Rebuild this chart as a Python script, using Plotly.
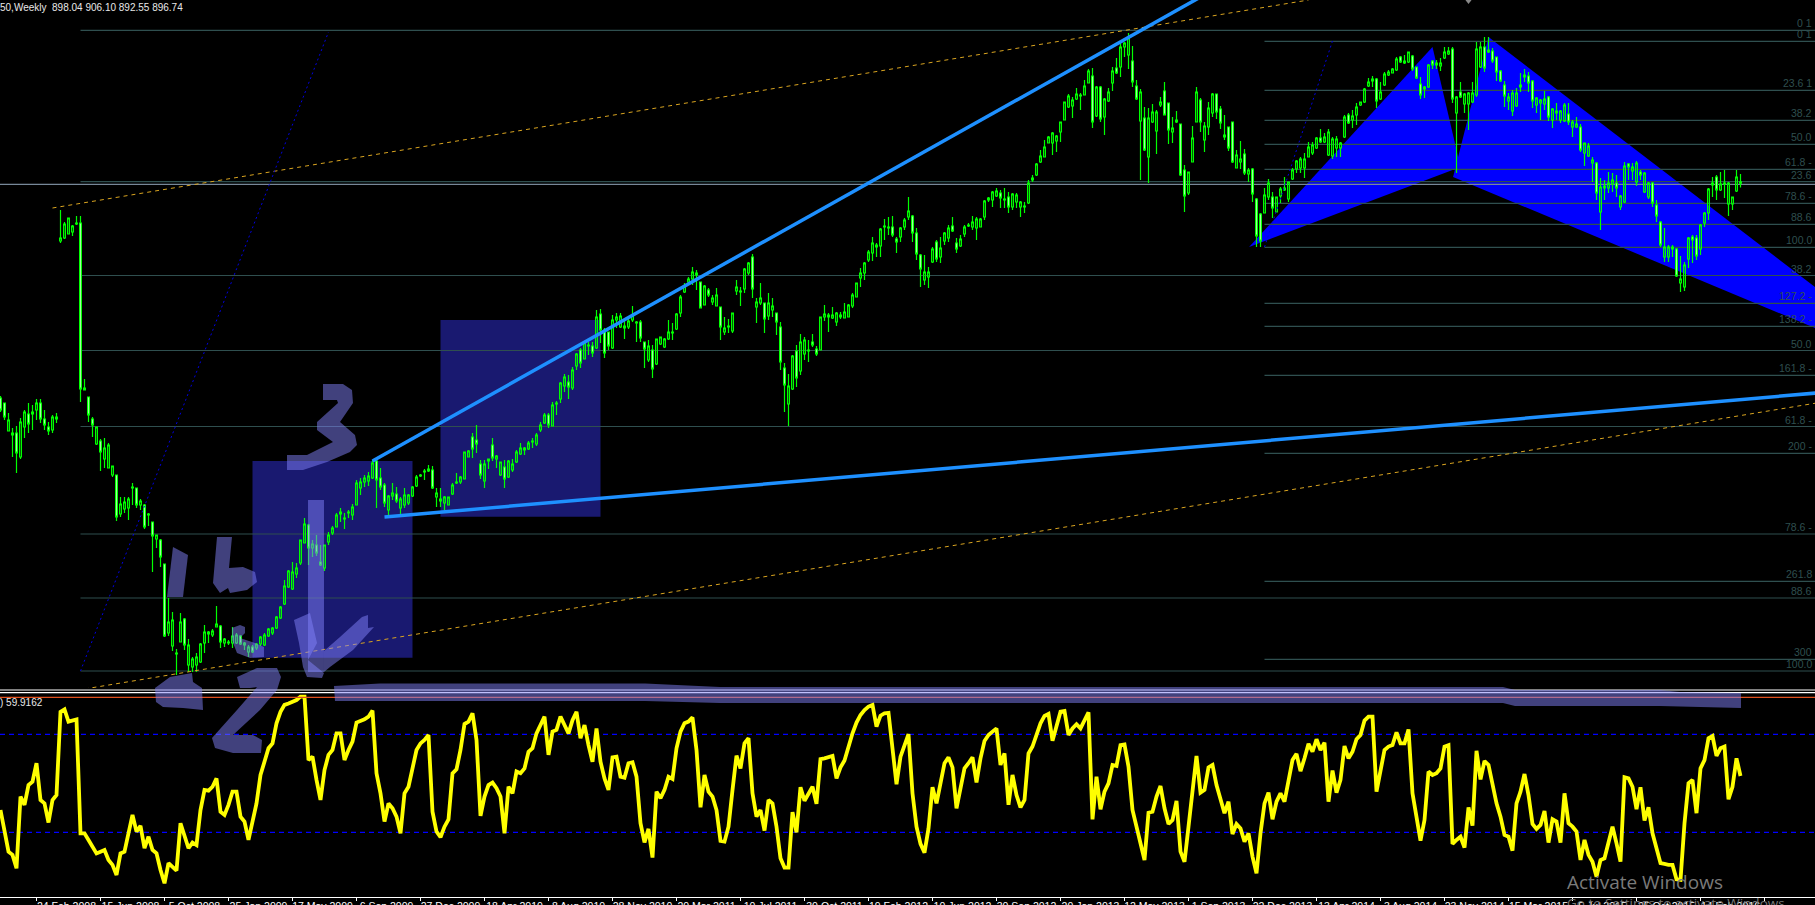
import pandas as pd
import plotly.graph_objects as go

# ---------- weekly candles (chart price units) ----------
opens = [
682,677,649,647,647,623,653,666,666,670,677,661,653,650,661,839,842,846,848,856,857,690,683,661,636,639,621,612,605,605,
566,571,572,592,592,575,575,565,558,541,540,516,447,434,426,438,461,415,413,415,418,437,446,445,453,454,437,438,437,437,
444,435,428,433,432,436,435,444,447,452,462,476,493,491,506,517,537,555,532,535,518,512,538,547,553,566,561,567,565,575,
592,598,599,602,619,602,595,570,584,586,572,575,577,584,594,604,608,609,610,583,581,577,575,586,597,598,601,623,643,640,
616,599,619,635,621,605,613,603,610,618,626,630,631,638,636,650,657,665,654,676,681,694,698,692,714,730,721,734,734,732,766,750,
748,732,760,753,752,753,760,758,758,738,720,730,716,736,733,741,747,751,767,788,798,801,805,798,775,790,778,774,773,748,753,749,
789,788,791,807,823,773,777,777,764,770,767,753,712,676,691,729,709,726,729,738,731,730,763,763,762,758,763,762,763,774,783,802,
807,820,827,833,834,854,852,853,841,843,853,863,864,847,825,800,803,818,838,823,839,842,854,837,834,846,854,853,852,853,863,880,
880,884,887,880,883,873,878,873,873,877,900,905,918,923,937,937,939,948,960,973,974,981,984,985,997,1004,964,993,963,979,997,1012,
1013,1033,1025,1019,994,959,962,923,958,949,975,989,977,948,958,956,910,887,918,958,980,940,953,
967,986,971,943,953,958,912,918,926,906,911,881,866,867,883,883,868,884,890,881,901,911,912,912,923,927,932,942,938,925,924,932,932,
943,965,960,965,975,978,994,999,1001,981,995,1005,1007,1010,1023,1017,1018,1024,1013,996,991,993,1019,1015,1014,1022,1026,1031,967,988,
976,976,978,985,1013,1033,1028,1029,1023,1009,995,979,969,974,993,1003,1004,999,975,977,976,983,960,967,960,959,966,953,953,953,927,924,
917,917,868,892,892,896,897,873,878,916,909,898,908,888,883,897,875,858,823,823,831,831,797,793,821,843,842,831,857,867,895,903,890,896,
876,876,889,898.04]
highs = [
684,677,667,652,654,662,670,677,675,681,681,670,658,665,667,870,858,862,855,864,864,701,683,663,653,641,642,637,614,605,
583,583,583,597,592,581,576,567,558,545,541,516,482,468,431,467,462,441,423,427,437,455,449,451,474,455,442,440,453,447,
445,438,435,435,437,444,447,452,453,464,474,500,510,518,517,540,562,556,540,545,535,535,548,554,567,572,567,570,576,600,
602,605,608,620,622,612,597,585,597,593,583,592,586,594,605,606,611,615,614,592,592,584,583,597,607,604,628,630,647,655,
620,620,621,642,625,618,620,620,621,630,637,633,639,642,647,658,667,667,678,679,698,706,705,713,727,732,738,738,738,770,771,752,
748,765,767,767,760,762,774,759,760,738,740,735,741,743,742,760,757,767,785,797,803,813,810,798,795,792,785,792,773,763,761,767,
800,793,812,818,826,782,797,777,787,782,767,758,717,706,725,735,746,743,740,746,734,763,775,767,773,768,768,777,776,787,797,812,
818,830,843,837,852,861,863,864,843,853,862,883,865,852,826,825,813,833,840,843,848,855,863,842,845,855,857,864,863,862,880,883,
889,892,890,892,888,887,887,879,878,900,905,917,930,940,944,948,945,958,978,986,983,992,987,1000,1011,1012,994,994,982,992,1013,1022,
1037,1038,1047,1034,1000,991,973,972,976,970,983,998,977,963,969,956,915,908,954,993,982,958,978,
987,986,974,965,953,958,930,939,931,912,912,882,867,892,901,888,883,893,903,898,912,920,923,927,938,938,943,951,947,951,943,944,938,
965,967,970,977,978,992,1002,1004,1002,998,1008,1010,1012,1023,1024,1025,1028,1025,1013,1003,994,1016,1020,1020,1022,1033,1033,1033,984,998,
987,988,998,1038,1038,1043,1043,1032,1023,1010,999,987,990,992,1007,1011,1008,1000,983,981,989,984,972,977,970,977,977,960,963,956,937,937,
923,918,902,900,908,907,905,885,918,917,917,919,910,908,898,898,880,859,852,835,835,832,824,818,843,845,845,856,868,892,903,905,908,910,
898,883,910,906.10]
lows = [
668,660,649,623,607,621,642,647,650,660,657,650,645,647,657,837,841,846,844,855,678,690,658,643,635,609,612,612,603,559,
563,567,560,575,572,570,551,554,508,532,513,443,444,429,405,438,430,408,408,408,417,427,437,443,453,432,433,435,432,436,
435,430,423,427,430,434,434,443,445,451,461,475,492,490,502,515,537,515,523,524,514,509,535,545,553,558,551,562,560,575,
585,593,594,601,572,590,573,565,580,577,565,572,575,583,593,603,600,608,591,573,573,570,575,585,596,596,601,623,622,627,
601,592,611,619,612,604,592,602,608,617,625,625,630,632,634,648,656,652,654,665,677,688,681,690,710,712,721,725,723,731,737,722,
730,731,752,752,741,751,758,738,738,712,718,702,715,735,732,740,740,750,763,787,795,795,790,772,775,783,775,774,740,745,747,747,
785,774,787,805,782,757,775,747,760,763,745,710,668,654,690,693,705,720,718,733,724,730,759,748,761,754,761,762,763,772,783,793,
800,818,819,823,823,840,845,843,827,838,850,860,838,820,793,795,792,817,818,817,835,838,848,827,833,843,853,850,840,853,860,878,
873,883,872,872,867,870,872,863,867,876,898,904,917,923,937,925,928,938,960,972,962,980,970,985,997,952,963,958,945,978,989,1006,
1003,1023,1011,993,980,900,929,897,957,926,973,965,936,937,957,904,868,885,918,958,948,928,945,
963,961,951,940,929,917,912,911,905,898,878,833,833,867,880,862,868,877,889,878,900,907,907,902,923,925,931,937,937,924,921,923,923,
942,956,952,955,974,977,993,993,972,980,994,1004,1007,1009,1017,1016,1017,1009,1001,981,982,992,1011,1011,1009,1021,1025,977,907,982,
967,950,977,983,1012,1008,1027,1017,999,998,973,970,964,973,988,998,988,972,967,960,970,959,952,960,957,958,955,943,952,928,914,923,
898,880,850,880,887,888,883,870,877,900,900,894,900,887,881,873,858,833,818,818,823,803,788,789,812,817,820,825,853,860,883,880,889,882,
864,870,888,892.55]
closes = [
670,663,660,645,627,658,668,656,668,677,661,655,649,663,663,842,856,862,854,857,691,692,665,655,653,628,632,635,614,563,
576,578,581,593,575,579,553,566,544,545,523,444,458,460,427,458,435,435,421,423,436,448,448,449,456,438,441,437,444,445,
436,437,433,428,436,443,445,451,452,463,473,494,509,508,512,540,556,532,536,527,515,535,545,552,565,568,562,568,573,597,
598,602,604,617,600,593,577,584,587,579,581,585,585,593,603,605,609,611,592,587,579,583,583,595,598,603,628,629,631,636,
605,616,621,622,624,618,601,619,616,628,632,632,637,639,645,655,665,655,675,677,697,703,693,710,726,717,737,735,727,763,750,727,
734,760,763,764,754,759,765,757,742,731,734,711,741,743,741,748,748,766,783,794,801,808,807,772,794,785,782,785,753,752,754,767,
793,789,811,817,791,778,782,761,777,774,758,718,695,694,724,702,738,740,730,735,726,763,766,765,765,767,765,768,775,785,797,807,
817,828,837,835,851,853,853,845,838,852,860,869,847,826,811,808,808,831,821,832,847,852,849,831,841,853,855,858,861,861,879,882,
888,889,882,881,873,886,885,878,874,897,902,916,924,933,943,947,944,958,978,984,980,986,985,994,1009,958,993,961,981,988,1009,1007,
1033,1037,1042,998,981,988,930,962,968,968,978,965,950,952,960,905,884,908,942,988,958,954,972,
986,968,957,945,932,918,925,921,907,910,886,844,839,885,897,872,883,891,892,898,910,919,921,921,933,935,942,938,943,948,941,941,937,
963,957,964,973,978,991,998,1001,979,988,1006,1008,1011,1021,1018,1019,1028,1011,1002,985,993,1015,1015,1017,1017,1028,1029,981,983,983,
986,987,987,1031,1033,1012,1030,1019,1008,999,984,983,987,987,995,1005,997,979,982,980,981,963,971,969,969,975,958,958,956,930,937,934,
920,887,893,894,897,900,892,884,914,913,913,917,905,907,897,877,864,835,833,833,833,804,801,815,842,840,824,855,867,891,897,890,896,897,
897,883,903,896.74]

# ---------- RSI ----------
rsi_values = [
39.1,31.0,22.1,20.8,15.3,44.6,41.2,49.3,50.7,58.2,43.2,41.8,34.0,43.2,45.2,79.2,80.2,75.2,75.6,76.1,29.6,29.6,26.9,24.2,21.4,22.1,22.8,18.7,16.7,12.6,
21.4,22.1,29.6,37.1,30.3,32.6,23.5,28.2,22.8,21.4,14.6,9.2,17.4,16.0,14.4,33.7,28.2,23.5,25.8,24.8,39.1,47.3,47.0,48.6,52.0,38.4,37.1,41.2,46.6,46.6,
36.4,34.4,26.9,35.0,41.8,53.4,59.5,64.3,66.3,74.5,79.2,82.0,82.6,83.3,84.0,85.4,85.4,59.5,60.9,51.4,43.2,55.4,61.6,63.6,70.4,70.4,59.5,63.6,67.0,74.8,
75.4,76.1,77.2,79.7,54.1,45.9,34.4,41.8,39.8,36.4,29.6,45.9,48.6,55.4,63.6,66.3,67.7,69.7,38.4,30.3,28.0,32.3,35.3,54.1,55.7,63.6,74.2,75.2,78.6,67.7,
36.7,44.6,49.3,50.3,48.0,44.6,29.6,48.6,45.9,54.8,54.1,56.1,62.9,64.3,70.4,73.8,77.2,61.6,71.1,71.8,77.2,73.8,70.4,75.8,79.2,68.4,73.8,65.6,58.8,72.4,58.8,52.0,
47.3,60.6,60.9,52.7,52.3,58.2,58.6,52.7,33.7,25.9,31.4,19.7,46.6,43.9,47.3,52.7,51.8,64.3,71.1,74.5,75.2,76.9,63.6,40.2,53.4,46.6,44.6,39.1,26.5,26.2,32.3,47.3,
61.3,56.1,66.3,68.4,45.9,36.4,39.1,30.7,43.2,41.8,32.3,19.4,15.6,15.6,38.2,30.0,48.4,42.9,45.9,48.6,41.6,59.9,60.2,60.9,61.2,52.0,56.5,59.3,65.0,70.4,74.8,77.9,
79.9,81.3,82.0,73.1,77.6,78.6,78.8,62.9,49.6,60.9,65.6,70.1,45.9,32.3,25.3,21.7,31.6,48.4,41.8,50.0,58.2,60.6,56.5,39.8,48.0,56.1,58.2,60.6,50.4,60.2,67.3,69.7,
71.1,72.4,57.5,62.2,41.2,53.4,45.2,40.2,43.2,62.2,65.0,70.4,74.5,77.5,78.3,67.4,73.1,79.2,79.5,69.7,72.4,74.1,72.4,75.8,79.0,35.3,52.7,39.4,46.6,50.0,57.5,57.1,
65.6,65.9,56.8,39.1,32.3,24.8,18.7,38.0,38.4,44.6,48.9,39.8,33.4,35.0,42.8,22.1,18.0,32.3,45.9,61.2,46.2,47.3,56.5,
57.5,49.3,43.9,37.8,42.5,29.3,33.4,31.6,26.2,29.6,20.1,13.3,29.6,41.8,46.2,35.3,42.5,45.9,42.5,51.4,59.5,62.0,55.0,60.2,66.1,62.9,68.0,63.6,66.6,42.5,55.2,46.2,51.4,
65.2,60.2,62.9,68.0,69.7,75.6,77.2,77.2,46.6,54.8,63.6,65.0,65.6,70.8,66.3,66.3,72.0,45.9,36.4,26.6,35.0,54.8,53.4,54.1,56.1,65.0,65.6,25.3,26.9,28.2,23.8,40.2,32.7,
63.3,51.6,59.1,57.5,50.0,41.8,36.4,28.9,28.2,22.5,41.8,46.6,53.8,45.2,33.4,31.4,33.0,38.7,25.8,35.3,34.4,25.8,45.9,33.7,32.3,30.3,18.7,26.9,20.8,18.0,11.9,18.7,19.4,
25.5,32.3,25.5,18.0,52.5,52.0,48.6,39.4,48.4,34.8,40.2,29.6,23.5,17.4,17.1,16.7,16.7,10.8,10.6,33.7,50.0,51.4,37.8,56.1,59.5,68.4,69.3,61.2,64.3,65.0,43.5,48.6,60.2,53.0]
rsi_levels = [70, 30]

# ---------- axis labels ----------
tick_labels = ["24 Feb 2008","15 Jun 2008","5 Oct 2008","25 Jan 2009","17 May 2009","6 Sep 2009","27 Dec 2009",
 "18 Apr 2010","8 Aug 2010","28 Nov 2010","20 Mar 2011","10 Jul 2011","30 Oct 2011","19 Feb 2012","10 Jun 2012",
 "30 Sep 2012","20 Jan 2013","12 May 2013","1 Sep 2013","22 Dec 2013","13 Apr 2014","3 Aug 2014","23 Nov 2014",
 "15 Mar 2015","5 Jul 2015","25 Oct 2015","14 Feb 2016","5 Jun 2016"]

# ---------- Fibonacci levels ----------
fib_a_prices = [1049.7, 898.3, 804.5, 729.5, 653.5, 546, 482, 409]
fib_a_labels = ["0 1", "23.6", "38.2", "50.0", "61.8 -", "78.6 -", "88.6", "100.0"]
fib_b_prices = [1038.7, 989.7, 959.7, 935.7, 910.7, 876.7, 855.7, 832.7, 776.7, 753.7, 704.7, 626.7, 498.7, 420.7]
fib_b_labels = ["0 1", "23.6 1", "38.2", "50.0", "61.8 -", "78.6 -", "88.6", "100.0", "127.2 -", "138.2 -", "161.8 -", "200 -", "261.8", "300"]
fib_a_start_bar, fib_b_start_bar = 20, 316
bid_line_price = 895.7

# ---------- drawn objects, anchored at (bar index, price) ----------
trend_lines = [[(93, 619), (300, 1083)], [(96, 563), (454, 687)]]
channel_lines = [[(13, 872), (327, 1080)], [(21, 391), (454, 677)]]
fan_lines = [[(20, 409), (82, 1048)], [(316, 833), (333, 1039)]]
harmonic_left = [(312.2, 833), (358.1, 1033), (365, 913)]
harmonic_right = [(363.2, 903), (372.1, 1043), (483, 703)]
boxes = [(63, 103, 422.3, 619), (110, 150, 563.3, 760)]

N_BARS = len(opens)
assert len(highs) == len(lows) == len(closes) == len(rsi_values) == N_BARS, (len(opens), len(highs), len(lows), len(closes), len(rsi_values))

W, H = 1815, 905
start = pd.Timestamp("2007-12-23")
def bar_date(i):
    return start + pd.Timedelta(days=7 * i)
dates = [bar_date(i) for i in range(N_BARS)]
x_left = bar_date(-0.125)
x_right = x_left + pd.Timedelta(days=W / 4 * 7)
price_range = [1080 - 688, 1080]
rsi_range = [3.6, 86.86]
tick_dates = [bar_date(9 + 16 * k) for k in range(len(tick_labels))]

FIB = "#2f4f4f"
TXT = "Liberation Sans, sans-serif"

fig = go.Figure()

def pts(seq):
    return [bar_date(p[0]) for p in seq], [p[1] for p in seq]

xedge = [x_left, x_right]

for seg in channel_lines:
    xs, ys = pts(seg)
    fig.add_trace(go.Scatter(x=xs, y=ys, mode="lines", line=dict(color="#daa520", width=1, dash="4px,4px"), showlegend=False))
for seg in fan_lines:
    xs, ys = pts(seg)
    fig.add_trace(go.Scatter(x=xs, y=ys, mode="lines", line=dict(color="#0000e0", width=1, dash="2px,3px"), showlegend=False))

fig.add_trace(go.Candlestick(
    x=dates, open=opens, high=highs, low=lows, close=closes, whiskerwidth=0,
    increasing=dict(line=dict(color="#00ff00", width=1.2), fillcolor="rgba(0,0,0,0)"),
    decreasing=dict(line=dict(color="#00ff00", width=1.2), fillcolor="#ffffff"),
    showlegend=False))

for seg in trend_lines:
    xs, ys = pts(seg)
    fig.add_trace(go.Scatter(x=xs, y=ys, mode="lines", line=dict(color="#1e90ff", width=3.5), showlegend=False))

fig.add_trace(go.Scatter(x=[bar_date(367)], y=[1079], mode="markers",
                         marker=dict(symbol="triangle-down", size=6, color="#888888"), showlegend=False))

for lv in rsi_levels:
    fig.add_trace(go.Scatter(x=xedge, y=[lv, lv], mode="lines", yaxis="y2",
                             line=dict(color="#0000ff", width=1.2, dash="5px,4px"), showlegend=False))
fig.add_trace(go.Scatter(x=dates, y=rsi_values, mode="lines", yaxis="y2",
                         line=dict(color="#ffff00", width=3.8), showlegend=False))

shapes = []
for b0, b1, p0, p1 in boxes:
    shapes.append(dict(type="rect", xref="x", yref="y", x0=bar_date(b0), x1=bar_date(b1), y0=p0, y1=p1,
                       fillcolor="#191970", line=dict(width=0), layer="below"))
def data_path(seq):
    return "M" + " L".join(f"{bar_date(b).strftime('%Y-%m-%d')},{p}" for b, p in seq) + " Z"
for tri in (harmonic_left, harmonic_right):
    shapes.append(dict(type="path", xref="x", yref="y", path=data_path(tri), fillcolor="#0000ff",
                       line=dict(width=0), layer="below"))
for lv in fib_a_prices:
    shapes.append(dict(type="line", xref="x", yref="y", x0=bar_date(fib_a_start_bar), x1=x_right, y0=lv, y1=lv,
                       line=dict(color=FIB, width=1.2), layer="below"))
for lv in fib_b_prices:
    shapes.append(dict(type="line", xref="x", yref="y", x0=bar_date(fib_b_start_bar), x1=x_right, y0=lv, y1=lv,
                       line=dict(color=FIB, width=1.2), layer="below"))
shapes.append(dict(type="line", xref="x", yref="y", x0=x_left, x1=x_right, y0=bid_line_price, y1=bid_line_price,
                   line=dict(color="#778899", width=1.2), layer="below"))

def px(x, y):
    return f"{x / W:.5f},{1 - y / H:.5f}"
def path(points):
    return "M" + " L".join(px(*p) for p in points) + " Z"
def hline(y, color):
    shapes.append(dict(type="line", xref="paper", yref="paper", x0=0, x1=1, y0=1 - y / H, y1=1 - y / H,
                       line=dict(color=color, width=1.2)))
hline(690, "#ffffff")
hline(692.6, "#ffffff")
hline(697.3, "#e0501e")

# hand-drawn marker shapes over the chart (picture coordinates)
BRUSH = "rgb(130,130,250)"
brush_marks = [
    [(323,384),(343,384),(352,390),(353,403),(340,422),(355,435),(357,445),(350,452),(327,462),(303,470),(287,470),(287,455),(307,455),(333,442),(317,430),(317,422),(338,403),(337,400),(323,400)],
    [(308,500),(324,500),(324,672),(308,672)],
    [(294,620),(310,613),(317,643),(308,660),(324,673),(322,678),(307,677),(303,667),(299,643)],
    [(324,651),(340,637),(362,617),(368,615),(368,628),(374,627),(353,650),(330,667),(324,672)],
    [(173,547),(188,555),(183,597),(167,597)],
    [(217,537),(232,537),(229,568),(243,567),(255,572),(257,582),(247,590),(230,593),(228,588),(220,593),(213,583)],
    [(232,628),(240,625),(245,627),(245,633),(240,638),(255,643),(264,647),(264,657),(250,658),(237,653),(232,640)],
    [(155,688),(170,677),(192,673),(193,682),(202,688),(203,710),(183,708),(163,707),(156,702)],
    [(237,677),(257,668),(277,668),(281,677),(277,690),(260,710),(233,735),(253,735),(262,740),(261,753),(233,753),(215,748),(212,738),(237,710),(257,687),(250,688),(240,688)],
    [(334,686),(380,683.5),(645,683.5),(720,687),(1503,687),(1515,690),(1660,690),(1680,692),(1741,693),
     (1741,708),(1660,706),(1515,706),(1503,703),(720,703),(645,701),(335,701)],
]
for poly in brush_marks:
    shapes.append(dict(type="path", xref="paper", yref="paper", path=path(poly), opacity=0.5,
                       fillcolor=BRUSH, line=dict(width=0)))

anns = []
def label(text, price, color=FIB):
    anns.append(dict(x=1, xref="paper", y=price, yref="y", text=text, showarrow=False, xanchor="right",
                     yanchor="bottom", xshift=-1, yshift=-1, font=dict(family=TXT, size=10.5, color=color)))
for t, p in zip(fib_a_labels, fib_a_prices):
    label(t, p)
for t, p in zip(fib_b_labels, fib_b_prices):
    label(t, p)

def page_text(text, x, y, size, color, family=TXT):
    anns.append(dict(x=x / W, xref="paper", y=1 - y / H, yref="paper", text=text, showarrow=False,
                     xanchor="left", yanchor="middle", font=dict(family=family, size=size, color=color)))
page_text("50,Weekly  898.04 906.10 892.55 896.74", -2, 7, 10, "#e8e8e8")
page_text(") 59.9162", -2, 702, 10, "#e8e8e8")
page_text("2007", 1, 909, 10.5, "#ffffff")
page_text("Activate Windows", 1565, 882, 19, "#7a7a7a", "Open Sans")
page_text("Go to Settings to activate Windows.", 1565, 903, 13.5, "#7a7a7a", "Open Sans")

fig.update_layout(
    width=W, height=H, margin=dict(l=0, r=0, t=0, b=0), autosize=False,
    paper_bgcolor="#000000", plot_bgcolor="#000000", showlegend=False, hovermode=False,
    boxgap=0.35, shapes=shapes, annotations=anns,
    xaxis=dict(domain=[0, 1], anchor="y2", range=[x_left, x_right], rangeslider=dict(visible=False),
               showgrid=False, zeroline=False, showline=True, linecolor="#ffffff", linewidth=1,
               tickmode="array", tickvals=tick_dates, ticktext=tick_labels, ticks="outside", ticklen=3,
               tickcolor="#ffffff", tickangle=0, automargin=False, ticklabelshift=30, ticklabelstandoff=-4,
               tickfont=dict(family=TXT, size=10.5, color="#ffffff")),
    yaxis=dict(domain=[1 - 688 / H, 1], range=price_range, showgrid=False, zeroline=False, showticklabels=False,
               ticks="", showline=False, automargin=False),
    yaxis2=dict(domain=[1 - 897 / H, 1 - 693 / H], range=rsi_range, showgrid=False, zeroline=False,
                showticklabels=False, ticks="", showline=False, automargin=False),
)

fig.write_html("out.html", config=dict(displayModeBar=False),
               post_script="document.body.style.margin='0';document.body.style.background='#000';document.documentElement.style.overflow='hidden';")
